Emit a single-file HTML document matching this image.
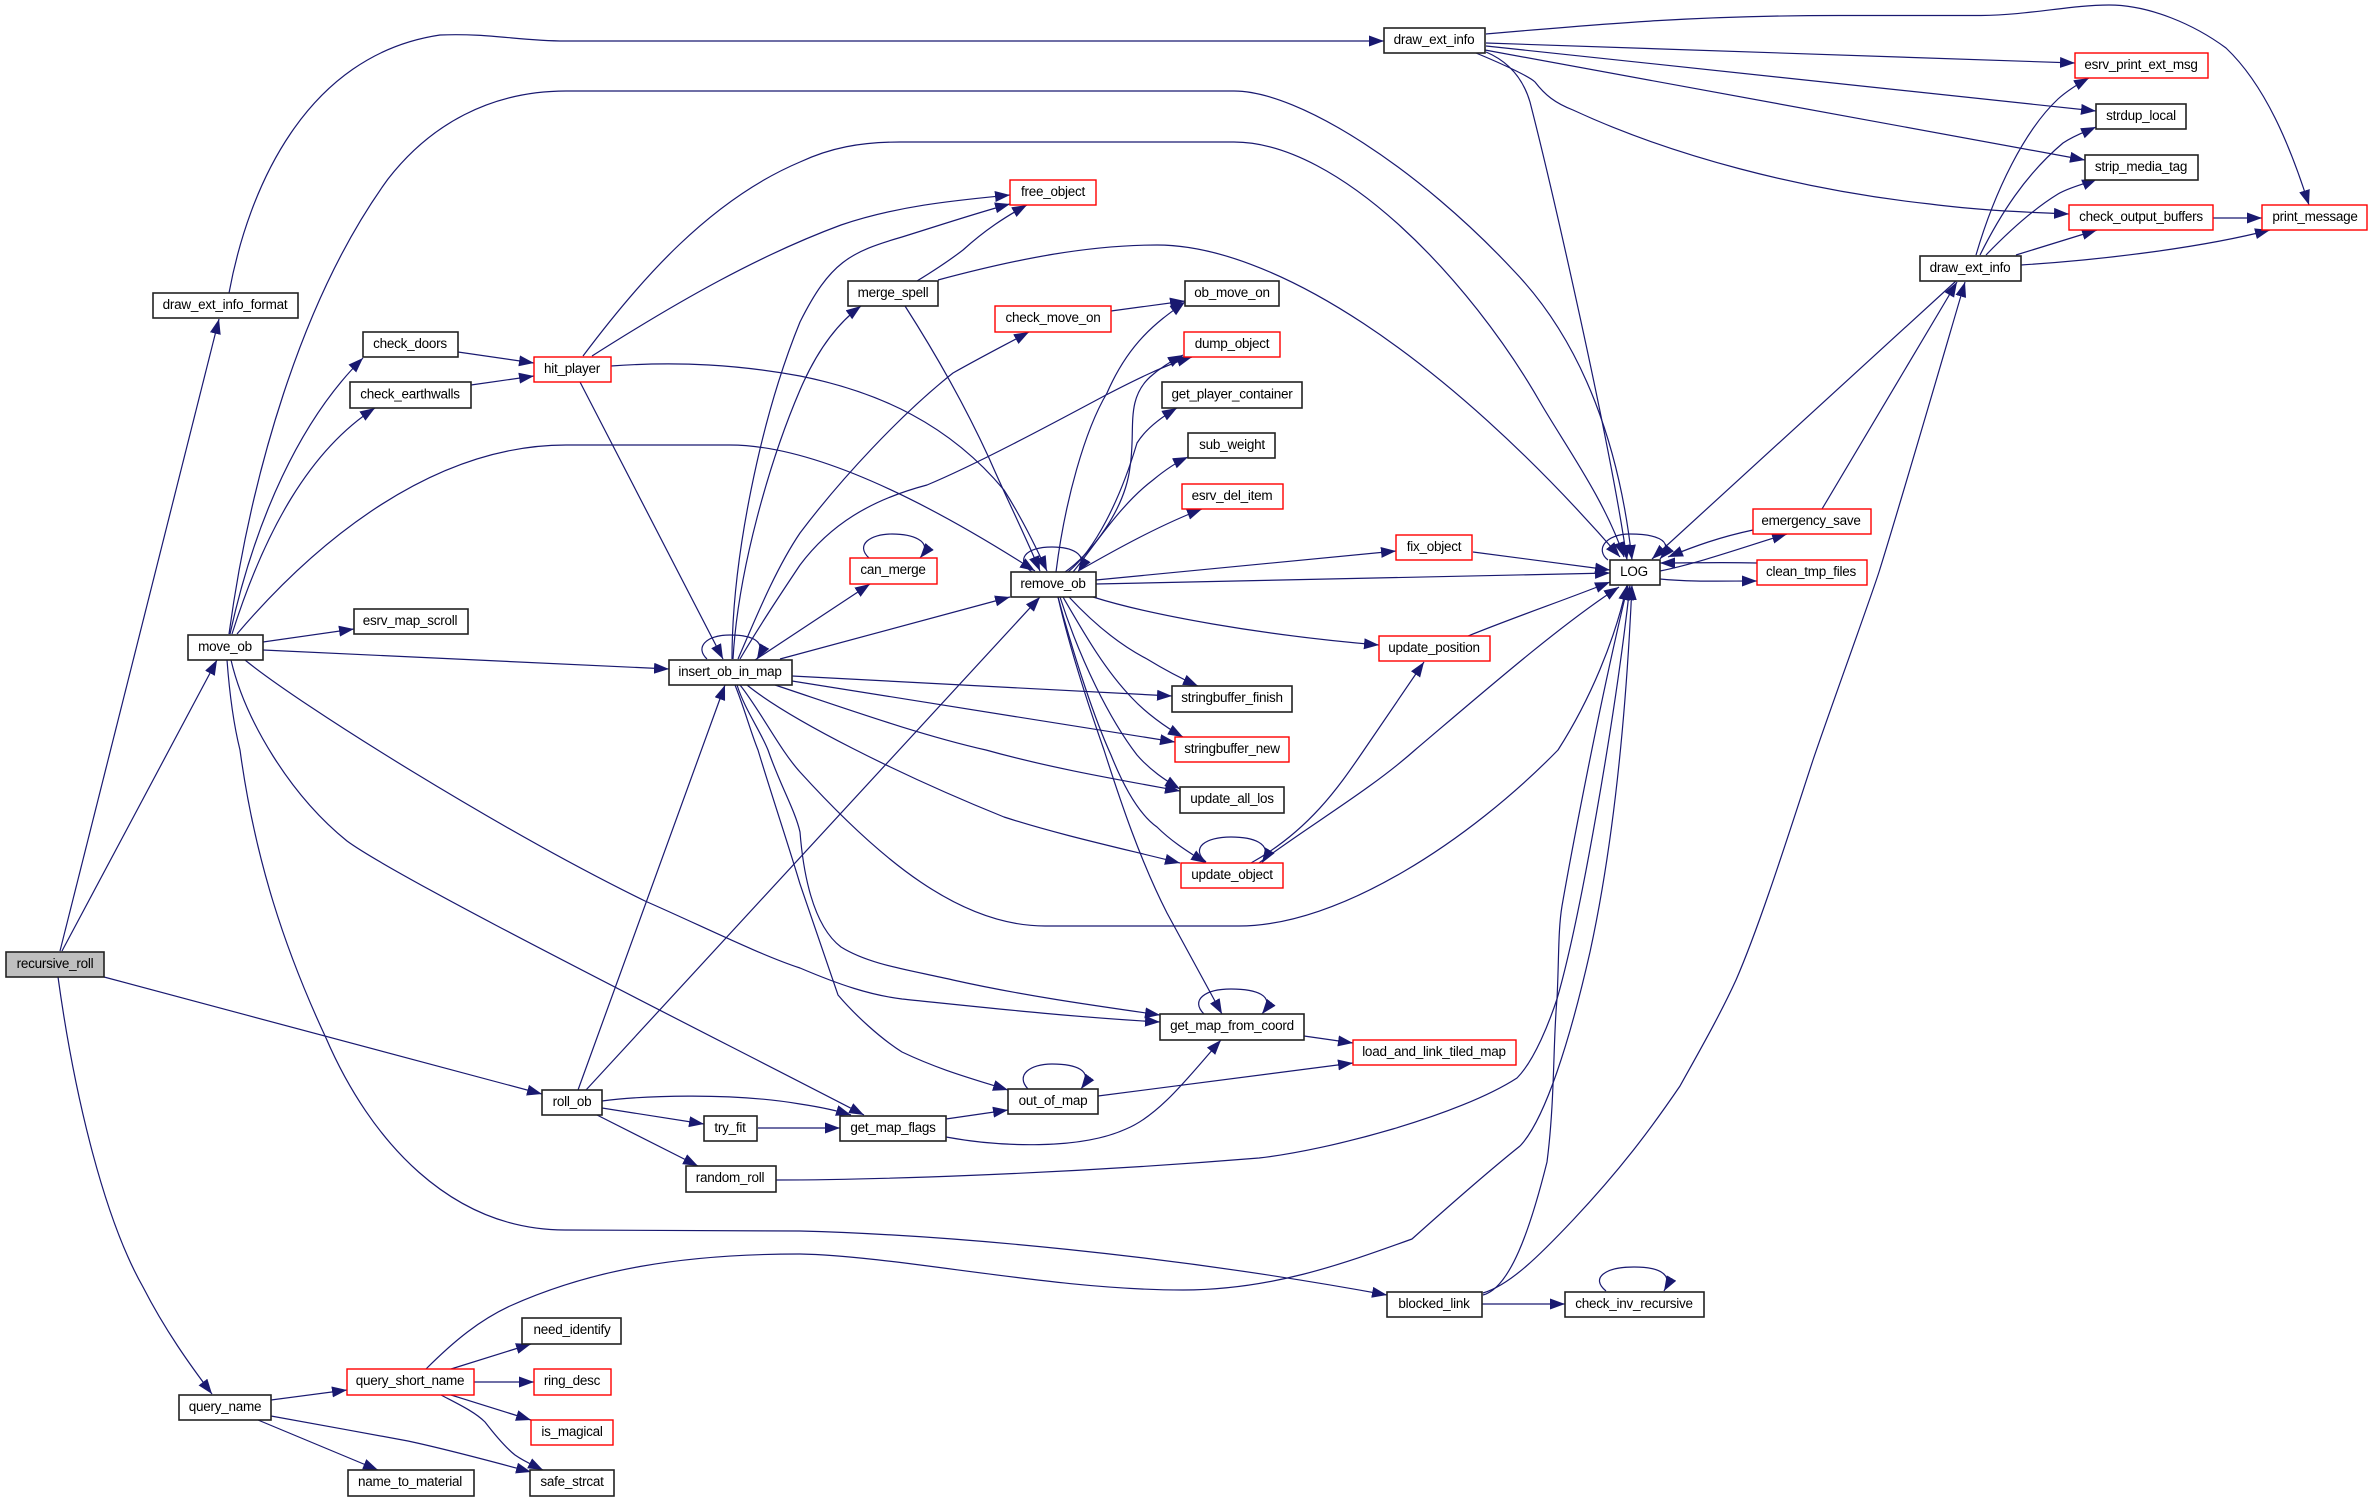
<!DOCTYPE html>
<html><head><meta charset="utf-8"><title>recursive_roll call graph</title>
<style>
html,body{margin:0;padding:0;background:#fff;width:2373px;height:1502px;overflow:hidden}
svg{display:block}
.e path{fill:none;stroke:#191970;stroke-width:1.2;marker-end:url(#a)}
rect{fill:#fff;stroke:#222;stroke-width:1.6}
rect.r{stroke:#ff0000;stroke-width:1.4}
rect.g{fill:#bfbfbf}
text{font-family:"Liberation Sans",sans-serif;font-size:13.5px;letter-spacing:-.25px;fill:#000;text-anchor:middle;transform:translateY(-1px)}
</style></head><body>
<svg xmlns="http://www.w3.org/2000/svg" width="2373" height="1502" viewBox="0 0 2373 1502">
<defs><marker id="a" markerUnits="userSpaceOnUse" markerWidth="16" markerHeight="12" refX="15" refY="5.500" orient="auto"><path d="M0 0L15 5.500L0 11z" fill="#191970" stroke="none"/></marker></defs>
<g class="e">
<path d="M60 951L219 319"/>
<path d="M62 951L217 660"/>
<path d="M104 977L542 1094"/>
<path d="M58 977C75 1100 105 1220 143 1287C165 1330 190 1365 212 1394"/>
<path d="M229 293C248 190 305 55 440 35C490 33 520 41 565 41L1384 41"/>
<path d="M229 634C250 480 300 300 388 179C430 125 490 91 566 91L1234 91C1300 91 1420 170 1514 271C1585 345 1620 450 1632 560"/>
<path d="M583 356C640 280 710 200 800 162C830 148 860 142 900 142L1234 142C1340 142 1470 280 1540 402C1565 445 1605 500 1624 557"/>
<path d="M938 280C1020 258 1090 245 1157 245C1270 245 1440 350 1620 557"/>
<path d="M1486 52C1505 60 1522 75 1530 102C1550 180 1610 440 1627 560"/>
<path d="M592 356C680 300 760 255 841 225C900 205 960 200 1010 195"/>
<path d="M237 634C300 560 420 445 566 445L730 445C820 445 940 510 1035 571"/>
<path d="M611 366C680 361 740 365 800 376C880 392 950 425 1004 490C1020 515 1035 545 1047 571"/>
<path d="M905 306C930 345 960 395 989 458C1005 495 1025 535 1040 571"/>
<path d="M707 659C695 648 705 635 730 635C750 635 768 640 757 659"/>
<path d="M580 382L723 659"/>
<path d="M732 659C732 560 760 420 800 322C830 262 850 252 902 237C950 222 980 212 1010 204"/>
<path d="M733 659C738 570 770 460 800 390C815 355 835 325 861 306"/>
<path d="M738 659C755 620 775 570 800 533C840 480 900 415 953 373C985 355 1005 345 1029 332"/>
<path d="M740 659C760 625 780 595 800 565C830 525 870 500 927 485C975 465 1050 425 1106 395C1135 380 1165 365 1192 357"/>
<path d="M755 660L870 584"/>
<path d="M780 659L1010 597"/>
<path d="M792 676L1172 696"/>
<path d="M792 681L1175 742"/>
<path d="M775 685C850 710 920 735 986 750C1050 768 1120 780 1180 791"/>
<path d="M747 685C790 720 900 775 1004 817C1060 835 1120 848 1180 863"/>
<path d="M740 685C760 710 780 750 800 772C880 860 960 926 1045 926L1239 926C1340 926 1470 840 1558 750C1590 700 1615 640 1627 585"/>
<path d="M1483 1295C1510 1288 1530 1230 1547 1162C1555 1100 1553 1040 1557 999C1559 960 1558 930 1562 906C1570 860 1600 700 1628 585"/>
<path d="M426 1369C455 1340 480 1320 510 1306C590 1270 680 1254 800 1254C900 1256 1050 1290 1183 1290C1270 1290 1340 1265 1412 1239C1450 1205 1490 1170 1520 1146C1545 1120 1570 1040 1590 952C1610 860 1625 740 1632 585"/>
<path d="M776 1180C860 1180 1050 1175 1259 1158C1330 1150 1460 1115 1517 1078C1535 1060 1550 1020 1557 999C1580 920 1615 720 1630 585"/>
<path d="M1259 863C1310 825 1370 790 1415 750C1480 695 1560 625 1619 587"/>
<path d="M1251 863C1310 830 1340 785 1364 750L1424 662"/>
<path d="M1468 636C1520 615 1565 600 1610 582"/>
<path d="M1473 552L1610 570"/>
<path d="M1096 584L1610 573"/>
<path d="M1753 530C1720 537 1695 546 1668 557"/>
<path d="M1757 563C1720 562 1695 563 1660 563"/>
<path d="M1660 571C1700 563 1750 545 1787 534"/>
<path d="M1660 579C1690 582 1720 581 1757 581"/>
<path d="M1608 560C1595 550 1605 534 1630 534C1650 534 1678 538 1660 559"/>
<path d="M1956 281L1652 559"/>
<path d="M1822 509L1957 282"/>
<path d="M1483 1293C1510 1285 1540 1255 1573 1220C1620 1170 1650 1130 1680 1086C1700 1050 1720 1015 1736 980C1760 925 1790 830 1813 760C1830 710 1870 600 1879 572C1900 505 1945 350 1965 282"/>
<path d="M1482 1304L1565 1304"/>
<path d="M1606 1291C1590 1278 1605 1267 1634 1267C1655 1267 1675 1272 1664 1291"/>
<path d="M1486 34C1600 24 1700 15 1850 15.500L1981 15.500C2030 15 2070 5 2109 5C2150 5 2195 25 2226 48C2265 85 2290 145 2309 205"/>
<path d="M1486 43L2075 63"/>
<path d="M1486 46L2096 111"/>
<path d="M1485 50L2085 160"/>
<path d="M1476 53C1505 65 1530 77 1535 82C1545 95 1555 103 1573 110C1670 155 1800 190 1930 204C1975 210 2020 212 2069 214"/>
<path d="M1976 255C1995 190 2025 130 2058 99C2068 90 2078 84 2089 78"/>
<path d="M1980 255C2000 215 2025 175 2063 143C2075 135 2085 132 2096 127"/>
<path d="M1986 255C2015 225 2040 205 2058 194C2070 187 2085 184 2097 179"/>
<path d="M2016 255L2097 230"/>
<path d="M2021 265C2100 260 2200 248 2270 230"/>
<path d="M2213 218L2262 218"/>
<path d="M458 352L534 363"/>
<path d="M471 385L534 376"/>
<path d="M230 634C255 520 300 420 363 358"/>
<path d="M232 634C265 530 310 450 375 408"/>
<path d="M263 642L354 629"/>
<path d="M263 650L669 669"/>
<path d="M245 660C300 705 500 830 645 901C700 925 760 955 800 968C840 985 870 995 902 999C980 1007 1070 1017 1160 1022"/>
<path d="M231 660C245 720 290 795 347 841C400 880 700 1030 864 1115"/>
<path d="M227 660C230 700 235 730 240 750C255 860 285 950 326 1038C370 1140 450 1230 565 1230L800 1231C950 1235 1170 1255 1387 1295"/>
<path d="M578 1090L725 685"/>
<path d="M586 1090L1040 597"/>
<path d="M602 1101C640 1096 730 1092 800 1104C820 1107 835 1110 851 1115"/>
<path d="M602 1108L704 1124"/>
<path d="M597 1115L698 1166"/>
<path d="M758 1128L840 1128"/>
<path d="M946 1119L1008 1110"/>
<path d="M946 1137C1000 1147 1080 1150 1126 1129C1160 1115 1190 1075 1221 1040"/>
<path d="M1028 1089C1015 1075 1030 1064 1052 1064C1075 1064 1095 1070 1081 1089"/>
<path d="M1098 1096L1353 1063"/>
<path d="M1304 1036L1353 1043"/>
<path d="M1204 1014C1190 1000 1205 989 1231 989C1255 989 1277 995 1262 1014"/>
<path d="M737 685C745 710 760 730 768 750C780 785 795 810 800 832C803 870 812 925 841 947C870 965 910 970 953 980C1020 995 1090 1005 1160 1015"/>
<path d="M735 685C745 710 750 730 758 750C770 790 790 850 800 884L838 995C855 1015 880 1038 902 1052C940 1070 970 1078 1008 1090"/>
<path d="M1058 597C1070 650 1090 710 1104 750C1120 800 1140 860 1167 913L1222 1014"/>
<path d="M1058 597C1075 660 1095 720 1111 755C1125 790 1140 815 1157 827C1170 840 1185 850 1206 863"/>
<path d="M1060 597C1080 660 1110 720 1137 755C1150 770 1165 780 1180 789"/>
<path d="M1063 597C1085 635 1105 670 1132 698C1145 712 1165 727 1183 737"/>
<path d="M1069 597C1095 625 1120 645 1147 659C1165 670 1180 678 1198 686"/>
<path d="M1093 597C1150 615 1260 635 1379 645"/>
<path d="M1096 580L1396 551"/>
<path d="M1032 572C1015 560 1025 547 1052 547C1070 547 1090 553 1078 572"/>
<path d="M1056 572C1065 500 1085 430 1107 393C1130 340 1160 320 1185 302"/>
<path d="M1065 572C1090 555 1125 510 1130 467C1136 430 1125 400 1150 377C1160 368 1170 362 1183 355"/>
<path d="M1068 572C1095 550 1120 500 1137 443C1145 430 1160 418 1177 408"/>
<path d="M1073 572C1095 545 1120 505 1153 480C1165 470 1175 463 1188 457"/>
<path d="M1080 570C1115 550 1160 525 1202 509"/>
<path d="M917 281C935 270 950 260 963 250C985 230 1005 217 1027 205"/>
<path d="M1111 311L1185 301"/>
<path d="M1206 862C1190 848 1205 837 1231 837C1250 837 1275 842 1262 863"/>
<path d="M869 558C855 545 870 534 892 534C910 534 935 540 920 558"/>
<path d="M271 1400L347 1390"/>
<path d="M258 1420L378 1470"/>
<path d="M271 1416C320 1425 360 1432 408 1441C450 1450 490 1461 531 1472"/>
<path d="M451 1369L531 1344"/>
<path d="M474 1382L534 1382"/>
<path d="M451 1395L531 1420"/>
<path d="M441 1395C460 1405 475 1412 485 1422C495 1435 505 1447 515 1455C525 1462 535 1466 543 1470"/>
</g>
<g>
<rect class="g" x="6" y="952" width="98" height="25"/><text x="55" y="969">recursive_roll</text>
<rect x="153" y="293" width="145" height="25"/><text x="225" y="310">draw_ext_info_format</text>
<rect x="363" y="332" width="95" height="25"/><text x="410" y="349">check_doors</text>
<rect x="350" y="382" width="121" height="26"/><text x="410" y="399.500">check_earthwalls</text>
<rect class="r" x="534" y="357" width="77" height="25"/><text x="572" y="374">hit_player</text>
<rect x="354" y="609" width="114" height="25"/><text x="410" y="626">esrv_map_scroll</text>
<rect x="188" y="635" width="75" height="25"/><text x="225" y="652">move_ob</text>
<rect x="669" y="660" width="123" height="25"/><text x="730" y="677">insert_ob_in_map</text>
<rect x="1384" y="28" width="101" height="25"/><text x="1434" y="45">draw_ext_info</text>
<rect class="r" x="1010" y="180" width="86" height="25"/><text x="1053" y="197">free_object</text>
<rect x="848" y="281" width="90" height="25"/><text x="893" y="298">merge_spell</text>
<rect class="r" x="995" y="306" width="116" height="26"/><text x="1053" y="323">check_move_on</text>
<rect x="1185" y="281" width="94" height="25"/><text x="1232" y="298">ob_move_on</text>
<rect class="r" x="1184" y="332" width="96" height="25"/><text x="1232" y="349">dump_object</text>
<rect x="1162" y="382" width="140" height="26"/><text x="1232" y="399.500">get_player_container</text>
<rect x="1188" y="433" width="87" height="25"/><text x="1232" y="450">sub_weight</text>
<rect class="r" x="1182" y="484" width="101" height="25"/><text x="1232" y="501">esrv_del_item</text>
<rect class="r" x="1396" y="535" width="76" height="25"/><text x="1434" y="552">fix_object</text>
<rect class="r" x="850" y="558" width="87" height="26"/><text x="893" y="575">can_merge</text>
<rect x="1011" y="572" width="85" height="25"/><text x="1053" y="589">remove_ob</text>
<rect class="r" x="1379" y="636" width="111" height="25"/><text x="1434" y="653">update_position</text>
<rect x="1172" y="686" width="120" height="26"/><text x="1232" y="703">stringbuffer_finish</text>
<rect class="r" x="1175" y="737" width="114" height="25"/><text x="1232" y="754">stringbuffer_new</text>
<rect x="1180" y="787" width="104" height="26"/><text x="1232" y="804">update_all_los</text>
<rect class="r" x="1181" y="863" width="102" height="25"/><text x="1232" y="880">update_object</text>
<rect x="1160" y="1014" width="144" height="26"/><text x="1232" y="1031">get_map_from_coord</text>
<rect class="r" x="1353" y="1040" width="163" height="25"/><text x="1434" y="1057">load_and_link_tiled_map</text>
<rect x="1008" y="1089" width="90" height="25"/><text x="1053" y="1106">out_of_map</text>
<rect x="840" y="1116" width="106" height="25"/><text x="893" y="1133">get_map_flags</text>
<rect x="1387" y="1292" width="95" height="25"/><text x="1434" y="1309">blocked_link</text>
<rect x="1565" y="1292" width="139" height="25"/><text x="1634" y="1309">check_inv_recursive</text>
<rect x="542" y="1090" width="60" height="25"/><text x="572" y="1107">roll_ob</text>
<rect x="704" y="1116" width="53" height="25"/><text x="730" y="1133">try_fit</text>
<rect x="686" y="1166" width="90" height="26"/><text x="730" y="1183">random_roll</text>
<rect x="179" y="1395" width="92" height="25"/><text x="225" y="1412">query_name</text>
<rect class="r" x="347" y="1369" width="127" height="26"/><text x="410" y="1386">query_short_name</text>
<rect x="522" y="1318" width="99" height="26"/><text x="572" y="1335">need_identify</text>
<rect class="r" x="534" y="1369" width="77" height="26"/><text x="572" y="1386">ring_desc</text>
<rect class="r" x="531" y="1420" width="82" height="25"/><text x="572" y="1437">is_magical</text>
<rect x="348" y="1470" width="126" height="26"/><text x="410" y="1487">name_to_material</text>
<rect x="530" y="1470" width="84" height="26"/><text x="572" y="1487">safe_strcat</text>
<rect class="r" x="2075" y="53" width="133" height="25"/><text x="2141" y="70">esrv_print_ext_msg</text>
<rect x="2096" y="104" width="90" height="25"/><text x="2141" y="121">strdup_local</text>
<rect x="2085" y="155" width="113" height="25"/><text x="2141" y="172">strip_media_tag</text>
<rect class="r" x="2069" y="205" width="144" height="25"/><text x="2141" y="222">check_output_buffers</text>
<rect class="r" x="2262" y="205" width="105" height="25"/><text x="2315" y="222">print_message</text>
<rect x="1920" y="256" width="101" height="25"/><text x="1970" y="273">draw_ext_info</text>
<rect class="r" x="1753" y="509" width="118" height="25"/><text x="1811" y="526">emergency_save</text>
<rect class="r" x="1757" y="560" width="110" height="25"/><text x="1811" y="577">clean_tmp_files</text>
<rect x="1610" y="560" width="50" height="25"/><text x="1634" y="577">LOG</text>
</g>
</svg>
</body></html>
